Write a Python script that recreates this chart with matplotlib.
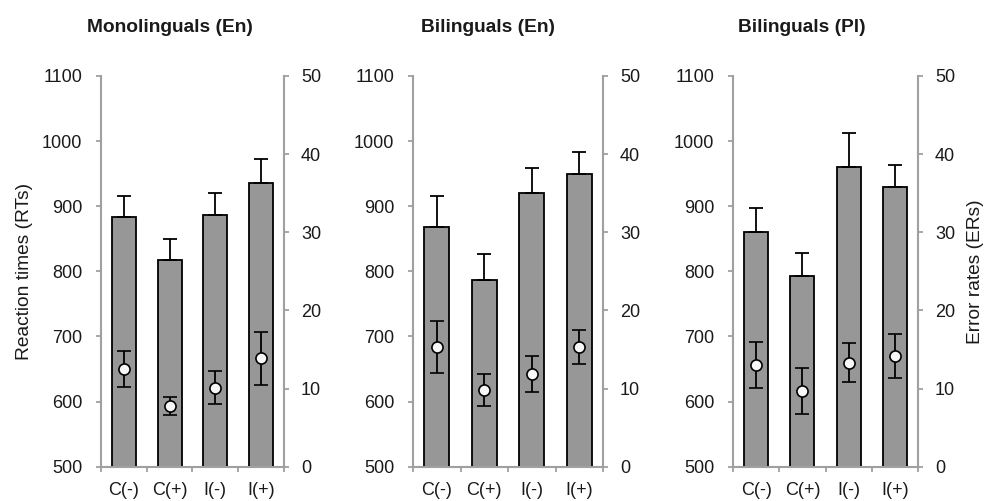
import matplotlib
matplotlib.use("Agg")
import matplotlib.pyplot as plt

plt.rcParams['font.family'] = ['Liberation Sans', 'DejaVu Sans']

categories = ["C(-)", "C(+)", "I(-)", "I(+)"]
titles = ["Monolinguals (En)", "Bilinguals (En)", "Bilinguals (Pl)"]

# Reaction times (bars) and their (upward) error bars
rt_mono_en = [883, 818, 886, 935]
rt_err_mono_en = [32, 32, 35, 38]
rt_bi_en = [868, 787, 920, 950]
rt_err_bi_en = [48, 39, 38, 34]
rt_bi_pl = [861, 793, 961, 929]
rt_err_bi_pl = [36, 35, 52, 35]

# Error rates (circles) and their error bars
er_mono_en = [12.5, 7.8, 10.1, 13.9]
er_err_mono_en = [2.3, 1.15, 2.1, 3.4]
er_bi_en = [15.3, 9.8, 11.9, 15.3]
er_err_bi_en = [3.3, 2.0, 2.3, 2.2]
er_bi_pl = [13.0, 9.7, 13.3, 14.2]
er_err_bi_pl = [2.9, 2.95, 2.5, 2.8]

rts = [rt_mono_en, rt_bi_en, rt_bi_pl]
rt_errs = [rt_err_mono_en, rt_err_bi_en, rt_err_bi_pl]
ers = [er_mono_en, er_bi_en, er_bi_pl]
er_errs = [er_err_mono_en, er_err_bi_en, er_err_bi_pl]

W, H = 986, 501
fig = plt.figure(figsize=(W / 100, H / 100), dpi=100)

panel_px = [(101, 284), (413, 603), (733, 918)]
bottom_px, top_px = 466.7, 76
title_x_px = [170, 488, 802]

spine_col = '#a0a0a0'
bar_col = '#979797'
txt_col = '#1a1a1a'
fs = 13
tl = 3.6

for i in range(3):
    l, r = panel_px[i]
    ax = fig.add_axes([l / W, 1 - bottom_px / H, (r - l) / W, (bottom_px - top_px) / H])
    x = list(range(len(categories)))
    ax.bar(x, rts[i], width=0.52, color=bar_col, edgecolor='black', linewidth=1.3, zorder=2)
    ax.errorbar(x, rts[i], yerr=[[0] * 4, rt_errs[i]], fmt='none', ecolor='black',
                elinewidth=1.3, capsize=5, capthick=1.3, zorder=3)
    ax.set_xlim(-0.5, 3.5)
    ax.set_ylim(500, 1100)
    ax.set_yticks(range(500, 1101, 100))
    ax.set_xticks([-0.5, 0.5, 1.5, 2.5, 3.5])
    ax.set_xticklabels([])
    ax.set_xticks(x, minor=True)
    ax.set_xticklabels(categories, minor=True)
    ax.tick_params(axis='x', which='minor', length=0, pad=10.8, labelsize=fs, labelcolor=txt_col)
    ax.tick_params(axis='x', which='major', length=tl, width=1.3, color=spine_col, direction='out')
    ax.tick_params(axis='y', length=tl, width=1.3, color=spine_col, direction='out', pad=10,
                   labelsize=fs, labelcolor=txt_col)
    for s in ['top', 'right']:
        ax.spines[s].set_visible(False)
    for s in ['left', 'bottom']:
        ax.spines[s].set_color(spine_col)
        ax.spines[s].set_linewidth(1.5)

    ax2 = ax.twinx()
    ax2.errorbar(x, ers[i], yerr=er_errs[i], fmt='o', color='black', markerfacecolor='#f8f8f8',
                 markeredgecolor='black', markersize=8, markeredgewidth=1.2,
                 elinewidth=1.3, capsize=5, capthick=1.3, zorder=4)
    ax2.set_ylim(0, 50)
    ax2.set_yticks(range(0, 51, 10))
    ax2.tick_params(axis='y', length=tl, width=1.3, color=spine_col, direction='out', pad=8.6,
                    labelsize=fs, labelcolor=txt_col)
    for s in ['top', 'left', 'bottom']:
        ax2.spines[s].set_visible(False)
    ax2.spines['right'].set_color(spine_col)
    ax2.spines['right'].set_linewidth(1.5)

    if i == 0:
        ax.set_ylabel("Reaction times (RTs)", fontsize=13.8, color=txt_col)
        ax.yaxis.set_label_coords((33 - l) / (r - l), 0.5)
    if i == 2:
        ax2.set_ylabel("Error rates (ERs)", fontsize=13.8, color=txt_col)
        ax2.yaxis.set_label_coords((967 - l) / (r - l), 0.5)

    fig.text(title_x_px[i] / W, 1 - 28 / H, titles[i], ha='center', va='center',
             fontsize=13.8, fontweight='bold', color=txt_col)

fig.savefig("out.png", dpi=100)
